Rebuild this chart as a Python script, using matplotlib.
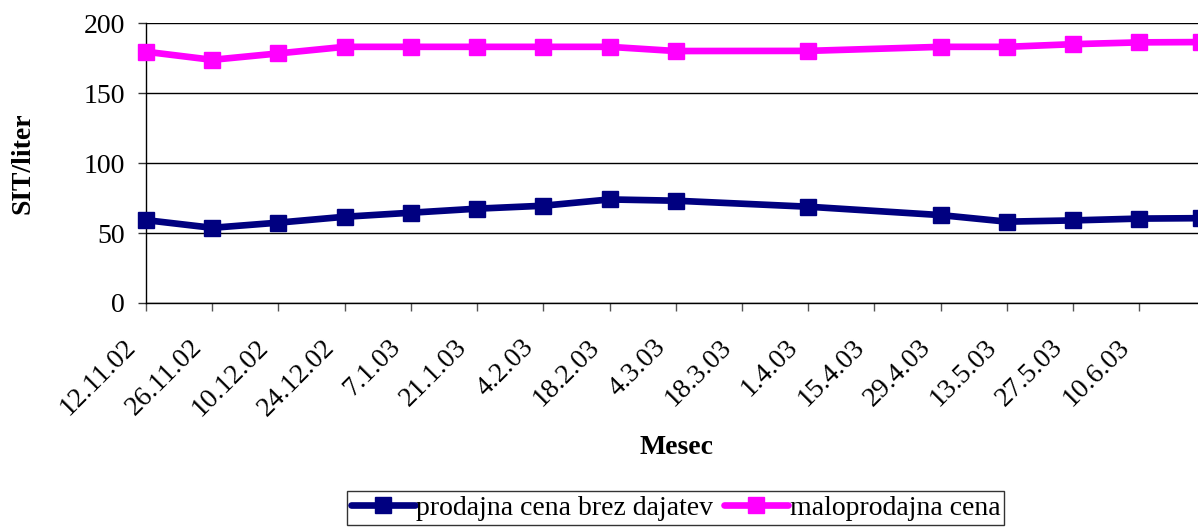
import matplotlib
matplotlib.use("Agg")
import matplotlib.pyplot as plt
import matplotlib.transforms as mtransforms
from datetime import datetime, timedelta

plt.rcParams['font.family'] = ['Liberation Serif', 'DejaVu Serif']

# ---- data ----
dates = ["12.11.02", "26.11.02", "10.12.02", "24.12.02", "7.1.03", "21.1.03",
         "4.2.03", "18.2.03", "4.3.03", "1.4.03", "29.4.03", "13.5.03",
         "27.5.03", "10.6.03", "23.6.03"]
prodajna = [59.3, 53.8, 57.5, 61.7, 64.6, 67.5, 69.6, 74.1, 73.2, 68.9,
            62.9, 58.2, 59.1, 60.4, 60.7]
maloprodajna = [179.8, 174.0, 178.6, 183.3, 183.3, 183.3, 183.3, 183.3,
                180.3, 180.4, 183.3, 183.3, 185.2, 186.5, 186.7]
tick_labels = ["12.11.02", "26.11.02", "10.12.02", "24.12.02", "7.1.03",
               "21.1.03", "4.2.03", "18.2.03", "4.3.03", "18.3.03", "1.4.03",
               "15.4.03", "29.4.03", "13.5.03", "27.5.03", "10.6.03"]
series_names = ["prodajna cena brez dajatev", "maloprodajna cena"]
colors = ["#000080", "#FF00FF"]
y_ticks = [0, 50, 100, 150, 200]

def parse(s):
    return datetime.strptime(s, "%d.%m.%y")

x = [parse(d) for d in dates]
xt = [parse(d) for d in tick_labels]

W, H = 1198, 530
fig = plt.figure(figsize=(W / 100, H / 100), dpi=100)
left, right, top, bottom = 146, 1198, 23.5, 303
ax = fig.add_axes([left / W, (H - bottom) / H, (right - left) / W, (bottom - top) / H])

for vals, name, c in zip([prodajna, maloprodajna], series_names, colors):
    ax.plot(x, vals, color=c, lw=4.8, marker='s', ms=11.5, mec=c, mfc=c,
            label=name, clip_on=False, zorder=3, solid_capstyle='round',
            solid_joinstyle='round')

ax.set_ylim(0, 200)
ax.set_yticks(y_ticks)
x0 = xt[0]
ax.set_xlim(x0, x0 + timedelta(days=222.4))
ax.set_xticks(xt)
ax.set_xticklabels(tick_labels)

ax.grid(axis='y', color='black', lw=1.0)
ax.set_axisbelow(True)
for s in ['top', 'right']:
    ax.spines[s].set_visible(False)
for s in ['left', 'bottom']:
    ax.spines[s].set_color('black')
    ax.spines[s].set_linewidth(1.0)

fs = 20
ax.tick_params(axis='y', direction='out', length=6, width=1, color='#333333',
               labelsize=fs, pad=9)
ax.tick_params(axis='x', direction='out', length=6, width=1, color='#555555',
               labelsize=fs, pad=17)
offset = mtransforms.ScaledTranslation(-5 / 100, 0, fig.dpi_scale_trans)
for lab in ax.get_xticklabels():
    lab.set_rotation(45)
    lab.set_ha('right')
    lab.set_va('top')
    lab.set_transform(lab.get_transform() + offset)

ax.set_ylabel("SIT/liter", fontsize=fs, fontweight='bold')
ax.yaxis.label.set_va('center')
ax.yaxis.set_label_coords((23 - left) / (right - left), 0.5)
fig.text(676 / W, 1 - 448 / H, "Mesec", fontsize=fs, fontweight='bold',
         ha='center', va='center')

leg = fig.legend(loc='upper center', bbox_to_anchor=(675.5 / W, 1 - 491 / H),
                 ncol=2, fontsize=fs, frameon=True, fancybox=False,
                 edgecolor='black', handlelength=2.3, handletextpad=0.05,
                 columnspacing=0.4, borderpad=0.15, borderaxespad=0)
leg.get_frame().set_linewidth(1.0)

fig.savefig("out.png", dpi=100)
